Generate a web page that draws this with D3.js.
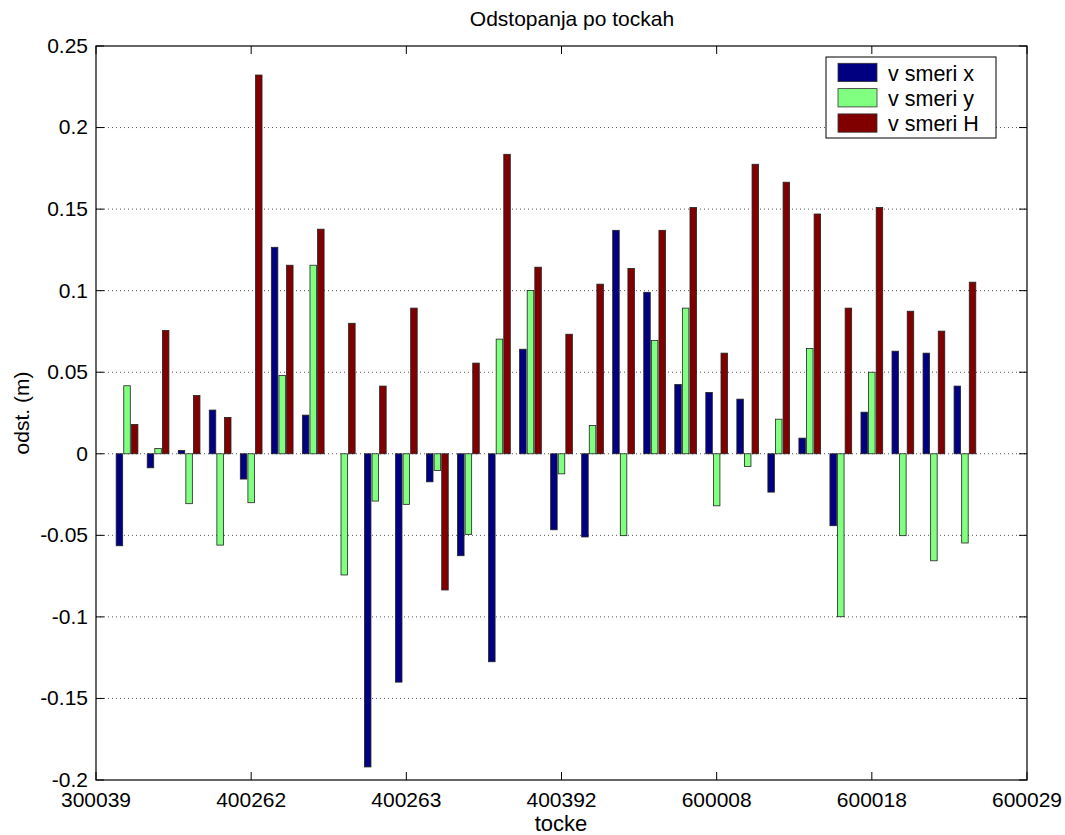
<!DOCTYPE html>
<html><head><meta charset="utf-8">
<script src="https://cdn.jsdelivr.net/npm/d3@7"></script>
<style>body{margin:0;background:#fff;} svg{font-family:"Liberation Sans",Arial,sans-serif;}</style>
</head><body><svg id="c" width="1065" height="835"></svg>
<script>
const tickLabels = ["300039","400262","400263","400392","600008","600018","600029"];
const tickPositions = [0,5,10,15,20,25,30];
const groups = d3.range(1,29);
const seriesNames = ["v smeri x","v smeri y","v smeri H"];
const seriesColors = ["#000080","#80ff80","#800000"];
const smerX = [-0.0564,-0.0086,0.002,0.0268,-0.0155,0.1266,0.0237,0,-0.192,-0.140,-0.0172,-0.0625,-0.1275,0.0641,-0.0466,-0.051,0.137,0.099,0.0425,0.0376,0.0335,-0.0235,0.0096,-0.0441,0.0255,0.0629,0.0617,0.0415];
const smerY = [0.0417,0.0033,-0.0306,-0.056,-0.030,0.048,0.1156,-0.0743,-0.029,-0.031,-0.0102,-0.0494,0.0703,0.1001,-0.0123,0.0174,-0.0502,0.0694,0.0893,-0.0319,-0.0078,0.0212,0.0645,-0.0999,0.05,-0.0502,-0.0656,-0.0547];
const smerH = [0.018,0.0756,0.0357,0.0223,0.2322,0.1156,0.1377,0.080,0.0415,0.0893,-0.0835,0.0556,0.1836,0.1144,0.0733,0.104,0.1136,0.137,0.151,0.0617,0.1775,0.1665,0.147,0.0893,0.151,0.0874,0.0752,0.1052];
const yTicks = [0.25,0.2,0.15,0.1,0.05,0,-0.05,-0.1,-0.15,-0.2];
const series = [smerX, smerY, smerH];

const svg = d3.select("#c");
const L=96,R=1027,T=46,B=780;
const x = d3.scaleLinear().domain([0,30]).range([L,R]);
const y = d3.scaleLinear().domain([-0.2,0.25]).range([B,T]);
const step = 0.245, bw = 0.21;

// grid
svg.append("g").selectAll("line").data(yTicks.filter(v=>v!==0.25&&v!==-0.2)).join("line")
  .attr("x1",L).attr("x2",R).attr("y1",d=>y(d)).attr("y2",d=>y(d))
  .attr("stroke","#555").attr("stroke-width",1).attr("stroke-dasharray","1,3");

// bars
series.forEach((vals,si)=>{
  svg.append("g").selectAll("rect").data(vals.map((v,i)=>({v,g:groups[i]}))).join("rect")
    .attr("x",d=>x(d.g+(si-1)*step-bw/2))
    .attr("width",d=>x(bw)-x(0))
    .attr("y",d=>y(Math.max(0,d.v)))
    .attr("height",d=>Math.abs(y(d.v)-y(0)))
    .attr("fill",seriesColors[si]).attr("stroke","#222").attr("stroke-width",0.8);
});

// axes box
svg.append("rect").attr("x",L).attr("y",T).attr("width",R-L).attr("height",B-T)
  .attr("fill","none").attr("stroke","#000").attr("stroke-width",1.2);

// y ticks
const yt = svg.append("g");
yTicks.forEach(v=>{
  yt.append("line").attr("x1",L).attr("x2",L+8).attr("y1",y(v)).attr("y2",y(v)).attr("stroke","#000");
  yt.append("line").attr("x1",R-8).attr("x2",R).attr("y1",y(v)).attr("y2",y(v)).attr("stroke","#000");
  yt.append("text").attr("x",L-8).attr("y",y(v)).attr("dy","0.33em").attr("text-anchor","end")
    .attr("font-size",21).text(String(v));
});
// x ticks
const xt = svg.append("g");
tickPositions.forEach((p,i)=>{
  xt.append("line").attr("x1",x(p)).attr("x2",x(p)).attr("y1",B).attr("y2",B-8).attr("stroke","#000");
  xt.append("line").attr("x1",x(p)).attr("x2",x(p)).attr("y1",T).attr("y2",T+8).attr("stroke","#000");
  xt.append("text").attr("x",x(p)).attr("y",807).attr("text-anchor","middle").attr("font-size",21).text(tickLabels[i]);
});

// labels
svg.append("text").attr("x",572).attr("y",26).attr("text-anchor","middle").attr("font-size",21).text("Odstopanja po tockah");
svg.append("text").attr("x",561).attr("y",831).attr("text-anchor","middle").attr("font-size",22).text("tocke");
svg.append("text").attr("transform","translate(29,413) rotate(-90)").attr("text-anchor","middle").attr("font-size",21).text("odst. (m)");

// legend
const lg = svg.append("g");
lg.append("rect").attr("x",826).attr("y",57).attr("width",170).attr("height",81).attr("fill","#fff").attr("stroke","#000");
seriesNames.forEach((n,i)=>{
  const yy = 63.3+i*25.3;
  lg.append("rect").attr("x",838).attr("y",yy).attr("width",39).attr("height",18.3).attr("fill",seriesColors[i]).attr("stroke","#333").attr("stroke-width",0.8);
  lg.append("text").attr("x",888).attr("y",yy+9.5).attr("dy","0.36em").attr("font-size",21.5).text(n);
});
</script></body></html>
